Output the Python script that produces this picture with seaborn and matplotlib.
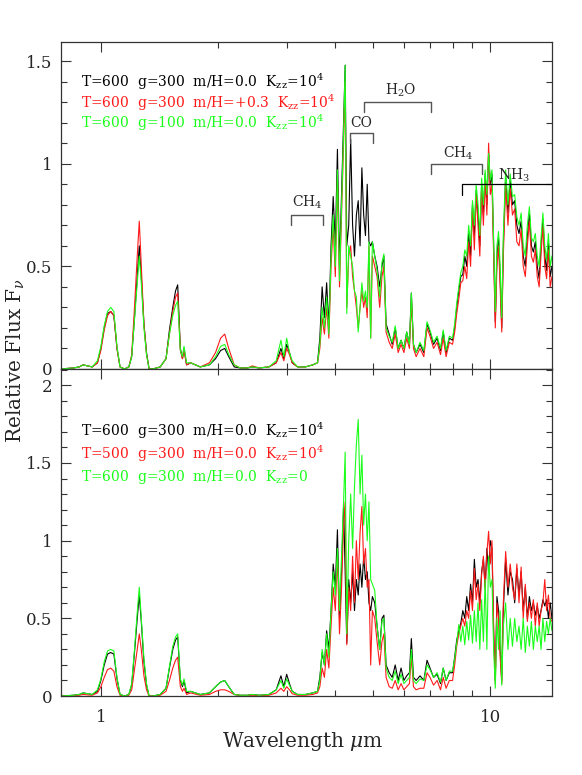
import numpy as np
import matplotlib
matplotlib.use('Agg')
import matplotlib.pyplot as plt
from matplotlib.ticker import FixedLocator, FixedFormatter, NullFormatter, MultipleLocator
import seaborn as sns

# wavelength grid (microns)
wl_nir = [0.79, 0.85, 0.88, 0.9, 0.95, 0.98, 1.0, 1.02, 1.04, 1.06,
          1.08, 1.1, 1.12, 1.15, 1.18, 1.2, 1.22, 1.24, 1.255, 1.27,
          1.29, 1.31, 1.33, 1.36, 1.42, 1.47, 1.5, 1.53, 1.555, 1.575,
          1.6, 1.62, 1.635, 1.66, 1.7, 1.8, 1.9, 1.97, 2.03, 2.08,
          2.13, 2.2, 2.28, 2.38, 2.45, 2.55, 2.7, 2.82, 2.9, 2.95,
          3.0, 3.05, 3.1, 3.2, 3.35, 3.5, 3.6]
wl_mir = [3.65, 3.7, 3.75, 3.8, 3.85, 3.9, 3.95, 4.0, 4.05, 4.1,
          4.15, 4.2, 4.24, 4.28, 4.33, 4.38, 4.43, 4.48, 4.53, 4.58,
          4.63, 4.68, 4.73, 4.78, 4.83, 4.88, 4.93, 4.98, 5.05, 5.12,
          5.2, 5.27, 5.33, 5.4, 5.5, 5.6, 5.7, 5.8, 5.9, 6.0,
          6.1, 6.2, 6.27, 6.35, 6.45, 6.6]
wl_far = [6.75, 6.88, 7.0, 7.15, 7.3, 7.45, 7.57, 7.7, 7.85, 8.0,
          8.1, 8.2, 8.3, 8.4, 8.5, 8.6, 8.7, 8.8, 8.9, 9.0,
          9.1, 9.2, 9.3, 9.4, 9.5, 9.6, 9.7, 9.8, 9.9, 10.0,
          10.1, 10.2, 10.3, 10.4, 10.5, 10.6, 10.7, 10.8, 10.95, 11.1,
          11.25, 11.4, 11.55, 11.7, 11.85, 12.0, 12.15, 12.3, 12.45, 12.6,
          12.75, 12.9, 13.05, 13.2, 13.35, 13.5, 13.65, 13.8, 13.95, 14.1,
          14.25, 14.4]
wl = wl_nir + wl_mir + wl_far

# ---- top panel: T=600 g=300 m/H=0.0 Kzz=1e4 (black)
top_black = [0.0, 0.005, 0.01, 0.02, 0.01, 0.03, 0.1, 0.2, 0.27, 0.28,
             0.26, 0.1, 0.01, 0.0, 0.01, 0.06, 0.25, 0.45, 0.6, 0.45,
             0.22, 0.08, 0.0, 0.0, 0.01, 0.05, 0.19, 0.3, 0.38, 0.41,
             0.1, 0.05, 0.1, 0.02, 0.03, 0.01, 0.02, 0.05, 0.09, 0.1,
             0.06, 0.01, 0.005, 0.005, 0.01, 0.005, 0.01, 0.03, 0.1, 0.05,
             0.12, 0.08, 0.03, 0.01, 0.01, 0.02, 0.03] + \
            [0.15, 0.40, 0.25, 0.42, 0.2, 0.6, 0.84, 0.6, 1.07, 0.5,
             0.85, 1.2, 1.48, 0.6, 0.7, 1.12, 0.7, 0.55, 0.75, 0.82,
             0.6, 0.98, 0.75, 0.65, 0.9, 0.62, 0.6, 0.62, 0.55, 0.5,
             0.4, 0.5, 0.55, 0.22, 0.17, 0.12, 0.2, 0.1, 0.14, 0.1,
             0.18, 0.12, 0.37, 0.12, 0.08, 0.12] + \
            [0.08, 0.22, 0.18, 0.12, 0.15, 0.09, 0.18, 0.08, 0.15, 0.14,
             0.2, 0.3, 0.38, 0.45, 0.46, 0.55, 0.5, 0.66, 0.55, 0.8,
             0.65, 0.87, 0.75, 0.6, 0.9, 0.75, 0.95, 0.8, 1.05, 0.9,
             0.95, 0.6, 0.23, 0.55, 0.64, 0.45, 0.2, 0.6, 0.94, 0.76,
             0.92, 0.8, 0.82, 0.7, 0.66, 0.72, 0.55, 0.5, 0.65, 0.76,
             0.6, 0.57, 0.62, 0.5, 0.44, 0.6, 0.73, 0.55, 0.48, 0.62,
             0.45, 0.5]

# T=600 g=300 m/H=+0.3 Kzz=1e4 (red)
top_red = [0.0, 0.005, 0.01, 0.02, 0.01, 0.03, 0.09, 0.19, 0.26, 0.28,
           0.26, 0.1, 0.01, 0.0, 0.01, 0.07, 0.3, 0.55, 0.72, 0.5,
           0.22, 0.07, 0.0, 0.0, 0.01, 0.05, 0.17, 0.28, 0.35, 0.37,
           0.09, 0.05, 0.09, 0.02, 0.03, 0.01, 0.03, 0.08, 0.15, 0.17,
           0.1, 0.02, 0.005, 0.005, 0.015, 0.005, 0.01, 0.03, 0.08, 0.04,
           0.1, 0.07, 0.03, 0.01, 0.01, 0.02, 0.03] + \
          [0.1, 0.25, 0.17, 0.3, 0.15, 0.5, 0.7, 0.45, 0.93, 0.4,
           0.75, 1.1, 1.4, 0.3, 0.55, 0.6, 0.45, 0.38, 0.3, 0.2,
           0.3, 0.38, 0.3, 0.35, 0.25, 0.6, 0.15, 0.55, 0.5, 0.45,
           0.3, 0.45, 0.5, 0.18, 0.13, 0.1, 0.17, 0.08, 0.12, 0.08,
           0.15, 0.1, 0.33, 0.1, 0.06, 0.1] + \
          [0.06, 0.2, 0.16, 0.1, 0.13, 0.07, 0.15, 0.06, 0.13, 0.12,
           0.18, 0.27, 0.34, 0.42, 0.43, 0.5, 0.44, 0.62, 0.5, 0.78,
           0.58, 0.85, 0.7, 0.55, 0.88, 0.7, 0.92, 0.75, 1.1, 0.85,
           0.9, 0.55, 0.2, 0.5, 0.6, 0.4, 0.18, 0.55, 0.9, 0.7,
           0.88, 0.75, 0.78, 0.62, 0.6, 0.68, 0.5, 0.45, 0.6, 0.72,
           0.55, 0.52, 0.58, 0.45, 0.4, 0.56, 0.7, 0.5, 0.44, 0.58,
           0.4, 0.45]

# T=600 g=100 m/H=0.0 Kzz=1e4 (green)
top_green = [0.0, 0.005, 0.01, 0.02, 0.01, 0.04, 0.11, 0.21, 0.28, 0.3,
             0.28, 0.11, 0.01, 0.0, 0.01, 0.06, 0.24, 0.42, 0.55, 0.42,
             0.2, 0.07, 0.0, 0.0, 0.01, 0.05, 0.17, 0.26, 0.31, 0.33,
             0.09, 0.06, 0.11, 0.03, 0.03, 0.01, 0.02, 0.06, 0.11, 0.12,
             0.07, 0.02, 0.005, 0.005, 0.01, 0.005, 0.01, 0.04, 0.14, 0.06,
             0.15, 0.08, 0.04, 0.01, 0.01, 0.02, 0.03] + \
            [0.12, 0.3, 0.2, 0.35, 0.17, 0.55, 0.75, 0.5, 0.97, 0.43,
             0.8, 1.15, 1.48, 0.27, 0.6, 0.55, 0.5, 0.38, 0.35, 0.18,
             0.3, 0.42, 0.33, 0.38, 0.3, 0.62, 0.15, 0.62, 0.55, 0.48,
             0.35, 0.52, 0.56, 0.2, 0.16, 0.13, 0.21, 0.1, 0.14, 0.1,
             0.18, 0.12, 0.37, 0.12, 0.08, 0.13] + \
            [0.09, 0.23, 0.19, 0.13, 0.16, 0.1, 0.19, 0.09, 0.16, 0.15,
             0.22, 0.32, 0.4, 0.47, 0.5, 0.58, 0.55, 0.7, 0.6, 0.82,
             0.7, 0.9, 0.8, 0.65, 0.93, 0.8, 0.97, 0.85, 1.05, 0.92,
             0.97, 0.62, 0.28, 0.6, 0.67, 0.5, 0.25, 0.65, 0.97, 0.8,
             0.95, 0.84, 0.85, 0.74, 0.7, 0.76, 0.6, 0.55, 0.7, 0.79,
             0.64, 0.62, 0.66, 0.55, 0.5, 0.64, 0.76, 0.6, 0.53, 0.66,
             0.5, 0.55]

# ---- bottom panel: T=600 Kzz=1e4 (black)
bot_black = [0.0, 0.005, 0.01, 0.02, 0.01, 0.03, 0.1, 0.2, 0.27, 0.28,
             0.27, 0.11, 0.01, 0.0, 0.01, 0.07, 0.28, 0.5, 0.65, 0.48,
             0.22, 0.07, 0.0, 0.0, 0.01, 0.05, 0.18, 0.3, 0.36, 0.38,
             0.1, 0.06, 0.1, 0.02, 0.03, 0.01, 0.02, 0.06, 0.09, 0.1,
             0.06, 0.01, 0.005, 0.005, 0.01, 0.005, 0.01, 0.04, 0.13, 0.06,
             0.14, 0.08, 0.03, 0.01, 0.01, 0.02, 0.03] + \
            [0.12, 0.28, 0.2, 0.42, 0.3, 0.55, 0.85, 0.7, 1.07, 0.5,
             0.8, 1.22, 0.8, 0.34, 0.75, 0.6, 0.8, 0.55, 0.75, 0.65,
             0.85, 0.7, 0.9, 0.75, 0.8, 0.6, 0.55, 0.64, 0.6, 0.45,
             0.3, 0.5, 0.52, 0.2, 0.15, 0.12, 0.2, 0.1, 0.18, 0.1,
             0.13, 0.15, 0.37, 0.12, 0.1, 0.13] + \
            [0.1, 0.23, 0.18, 0.12, 0.14, 0.08, 0.18, 0.1, 0.15, 0.15,
             0.25, 0.36, 0.42, 0.47, 0.55, 0.5, 0.64, 0.55, 0.72, 0.6,
             0.88, 0.7, 0.75, 0.6, 0.8, 0.88, 0.7, 0.95, 0.8, 1.0,
             0.95, 0.4, 0.1, 0.64, 0.55, 0.3, 0.1, 0.55, 0.88, 0.65,
             0.8, 0.75, 0.6, 0.82, 0.65, 0.8, 0.55, 0.7, 0.5, 0.64,
             0.55, 0.6, 0.52, 0.58, 0.5, 0.55, 0.62, 0.58, 0.62, 0.5,
             0.6, 0.5]

# T=500 Kzz=1e4 (red)
bot_red = [0.0, 0.003, 0.005, 0.01, 0.005, 0.02, 0.06, 0.12, 0.17, 0.18,
           0.16, 0.06, 0.005, 0.0, 0.005, 0.04, 0.17, 0.3, 0.4, 0.3,
           0.13, 0.04, 0.0, 0.0, 0.005, 0.03, 0.1, 0.18, 0.23, 0.25,
           0.06, 0.03, 0.05, 0.01, 0.02, 0.005, 0.01, 0.03, 0.04, 0.04,
           0.03, 0.01, 0.003, 0.003, 0.005, 0.003, 0.005, 0.02, 0.05, 0.03,
           0.06, 0.04, 0.015, 0.005, 0.005, 0.01, 0.02] + \
          [0.06, 0.18, 0.12, 0.3, 0.18, 0.45, 0.7, 0.55, 0.9, 0.4,
           0.7, 1.1, 1.25, 0.33, 0.7, 0.55, 0.9, 0.6, 1.0, 0.75,
           1.05, 1.22, 0.85, 0.95, 0.7, 0.75, 0.2, 0.55, 0.5, 0.35,
           0.2, 0.35, 0.4, 0.12, 0.06, 0.05, 0.1, 0.04, 0.08, 0.04,
           0.06, 0.08, 0.25, 0.06, 0.04, 0.05] + \
          [0.05, 0.15, 0.12, 0.07, 0.1, 0.04, 0.12, 0.05, 0.1, 0.1,
           0.2, 0.32, 0.4, 0.45, 0.5, 0.45, 0.55, 0.5, 0.68, 0.55,
           0.82, 0.62, 0.72, 0.55, 0.78, 0.9, 0.68, 0.92, 1.06, 0.85,
           1.0, 0.45, 0.08, 0.6, 0.5, 0.25, 0.08, 0.6, 0.93, 0.7,
           0.85, 0.7, 0.62, 0.85, 0.6, 0.83, 0.5, 0.72, 0.48, 0.6,
           0.5, 0.62, 0.45, 0.6, 0.45, 0.55, 0.6, 0.75, 0.55, 0.65,
           0.5, 0.48]

# T=600 Kzz=0 (green)
bot_green = [0.0, 0.005, 0.01, 0.02, 0.01, 0.04, 0.11, 0.22, 0.29, 0.3,
             0.29, 0.12, 0.01, 0.0, 0.01, 0.08, 0.3, 0.54, 0.7, 0.5,
             0.24, 0.08, 0.0, 0.0, 0.01, 0.05, 0.19, 0.32, 0.38, 0.4,
             0.11, 0.07, 0.11, 0.03, 0.03, 0.01, 0.02, 0.06, 0.09, 0.1,
             0.06, 0.01, 0.005, 0.005, 0.01, 0.005, 0.01, 0.04, 0.1, 0.05,
             0.11, 0.07, 0.03, 0.01, 0.01, 0.02, 0.03] + \
            [0.1, 0.3, 0.2, 0.4, 0.25, 0.55, 0.8, 0.65, 0.95, 0.55,
             0.9, 1.25, 1.57, 0.4, 1.0, 1.3, 0.95, 1.35, 1.62, 1.78,
             1.3, 1.55, 1.1, 1.3, 1.0, 1.25, 0.75, 0.72, 0.68, 0.45,
             0.3, 0.48, 0.5, 0.18, 0.12, 0.1, 0.16, 0.08, 0.14, 0.08,
             0.1, 0.12, 0.3, 0.1, 0.08, 0.11] + \
            [0.1, 0.2, 0.17, 0.12, 0.15, 0.09, 0.18, 0.1, 0.16, 0.16,
             0.24, 0.34, 0.46, 0.35, 0.45, 0.33, 0.48, 0.36, 0.52, 0.34,
             0.55, 0.35, 0.6, 0.3, 0.62, 0.35, 0.75, 0.3, 0.9, 0.7,
             0.75, 0.3, 0.05, 0.5, 0.3, 0.55, 0.07, 0.45, 0.6, 0.3,
             0.5, 0.32, 0.5, 0.35, 0.45, 0.3, 0.5, 0.28, 0.45, 0.32,
             0.48, 0.3, 0.45, 0.35, 0.45, 0.3, 0.5, 0.35, 0.48, 0.4,
             0.5, 0.42]

top_labels = ['T=600  g=300  m/H=0.0  K$_{\\rm zz}$=10$^4$',
              'T=600  g=300  m/H=+0.3  K$_{\\rm zz}$=10$^4$',
              'T=600  g=100  m/H=0.0  K$_{\\rm zz}$=10$^4$']
bot_labels = ['T=600  g=300  m/H=0.0  K$_{\\rm zz}$=10$^4$',
              'T=500  g=300  m/H=0.0  K$_{\\rm zz}$=10$^4$',
              'T=600  g=300  m/H=0.0  K$_{\\rm zz}$=0']
colors = ['black', '#ff1a1a', '#1aff1a']

# absorption band brackets: (label, x0, x1, y, label_x, label_y)
bands = [('CH$_4$', 3.07, 3.71, 0.75, 3.38, 0.81),
         ('CO', 4.35, 5.0, 1.15, 4.66, 1.20),
         ('H$_2$O', 4.75, 7.05, 1.30, 5.87, 1.36),
         ('CH$_4$', 7.05, 9.52, 1.00, 8.29, 1.05)]

sns.set_style('ticks')
plt.rcParams['font.family'] = ['DejaVu Serif']
plt.rcParams['mathtext.fontset'] = 'dejavuserif'

fig = plt.figure(figsize=(5.82, 7.75), dpi=100)
ax1 = fig.add_axes([0.1048, 0.5239, 0.8436, 0.4219])
ax2 = fig.add_axes([0.1048, 0.1019, 0.8436, 0.4220])

for ax, series in [(ax1, [top_black, top_red, top_green]),
                   (ax2, [bot_black, bot_red, bot_green])]:
    for ys, c in zip(series, colors):
        sns.lineplot(x=wl, y=ys, color=c, lw=0.8, ax=ax, estimator=None, sort=False)

for ax in (ax1, ax2):
    ax.set_xscale('log')
    ax.set_xlim(0.79, 14.4)
    ax.xaxis.set_major_locator(FixedLocator([1, 10]))
    ax.xaxis.set_minor_locator(FixedLocator([2, 3, 4, 5, 6, 7, 8, 9]))
    ax.xaxis.set_minor_formatter(NullFormatter())
    ax.yaxis.set_minor_locator(MultipleLocator(0.1))
    ax.tick_params(which='both', direction='in', top=True, right=True,
                   width=0.8, color='#333333', labelsize=12)
    ax.tick_params(which='major', length=7)
    ax.tick_params(which='minor', length=4)
    ax.tick_params(axis='y', pad=6)
    ax.tick_params(axis='x', pad=9)
    for s in ax.spines.values():
        s.set_color('#333333')
        s.set_linewidth(0.9)
    ax.set_xlabel('')
    ax.set_ylabel('')

ax1.set_ylim(0, 1.593)
ax1.yaxis.set_major_locator(FixedLocator([0, 0.5, 1, 1.5]))
ax1.yaxis.set_major_formatter(FixedFormatter(['0', '0.5', '1', '1.5']))
ax1.xaxis.set_major_formatter(NullFormatter())

ax2.set_ylim(0, 2.105)
ax2.yaxis.set_major_locator(FixedLocator([0, 0.5, 1, 1.5, 2]))
ax2.yaxis.set_major_formatter(FixedFormatter(['0', '0.5', '1', '1.5', '2']))
ax2.xaxis.set_major_formatter(FixedFormatter(['1', '10']))

for lab, x0, x1, y, lx, ly in bands:
    ax1.plot([x0, x0, x1, x1], [y - 0.05, y, y, y - 0.05], color='#555555', lw=1)
    ax1.text(lx, ly, lab, ha='center', va='center', fontsize=10)
ax1.plot([8.46, 8.46, 14.4], [0.85, 0.90, 0.90], color='black', lw=0.9, clip_on=False)
ax1.text(11.5, 0.945, 'NH$_3$', ha='center', va='center', fontsize=10)

for ax, labels, ypos in [(ax1, top_labels, [0.878, 0.815, 0.752]),
                         (ax2, bot_labels, [0.81, 0.74, 0.67])]:
    for lab, c, yy in zip(labels, colors, ypos):
        ax.text(0.04, yy, lab, color=c, fontsize=10, transform=ax.transAxes,
                ha='left', va='center')

fig.text(0.52, 0.043, 'Wavelength $\\mu$m', ha='center', va='center', fontsize=14.5)
fig.text(0.028, 0.535, 'Relative Flux F$_\\nu$', ha='center', va='center',
         rotation=90, fontsize=14.5)

fig.savefig('out.png', dpi=100)
